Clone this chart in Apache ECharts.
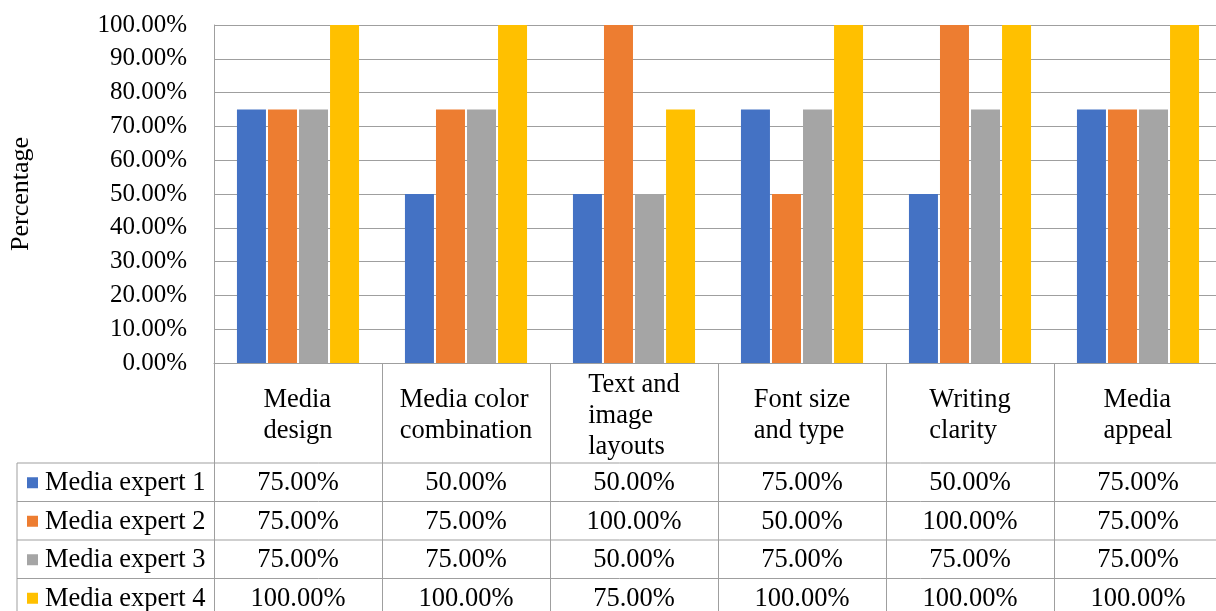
<!DOCTYPE html>
<html>
<head>
<meta charset="utf-8">
<script src="https://cdn.jsdelivr.net/npm/echarts@6/dist/echarts.min.js"></script>
<style>
  html, body { margin: 0; padding: 0; background: #fff; overflow: hidden; }
  #chart { width: 1222px; height: 611px; }
</style>
</head>
<body>
<div id="chart"></div>
<script>
// Evaluation categories (header row of the data table)
const categories = ['Media\ndesign', 'Media color\ncombination', 'Text and\nimage\nlayouts', 'Font size\nand type', 'Writing\nclarity', 'Media\nappeal'];
const seriesNames = ['Media expert 1', 'Media expert 2', 'Media expert 3', 'Media expert 4'];
const expert1 = [0.75, 0.50, 0.50, 0.75, 0.50, 0.75];
const expert2 = [0.75, 0.75, 1.00, 0.50, 1.00, 0.75];
const expert3 = [0.75, 0.75, 0.50, 0.75, 0.75, 0.75];
const expert4 = [1.00, 1.00, 0.75, 1.00, 1.00, 1.00];
const colors = ['#4472C4', '#ED7D31', '#A5A5A5', '#FFC000'];

const allSeries = [expert1, expert2, expert3, expert4];
const FONT = '"Liberation Serif", "Times New Roman", serif';
const LINE = '#9f9f9f';
const TABLE_FONT = 26.5;
const pct = v => (v * 100).toFixed(2) + '%';

// Table geometry
const tableLeft = 17;
const headerMid = 416;
const headerLineH = 31;
const rowTops = [463, 501.5, 540, 578.5];
const rowH = 38.5;

const chart = echarts.init(document.getElementById('chart'), null, { renderer: 'canvas' });

chart.setOption({
  animation: false,
  color: colors,
  grid: { left: 214, right: 0, top: 25, bottom: 248, containLabel: false },
  xAxis: {
    type: 'category',
    data: categories,
    axisLine: { show: true, lineStyle: { color: LINE, width: 1 } },
    axisTick: { show: true, length: 248, interval: 0, lineStyle: { color: LINE, width: 1 } },
    axisLabel: { show: false }
  },
  yAxis: {
    type: 'value',
    min: 0,
    max: 1,
    interval: 0.1,
    name: 'Percentage',
    nameLocation: 'middle',
    nameRotate: 90,
    nameGap: 180,
    nameTextStyle: { fontFamily: FONT, fontSize: 26, color: '#000' },
    axisLine: { show: true, lineStyle: { color: LINE, width: 1 } },
    axisTick: { show: false },
    splitLine: { lineStyle: { color: LINE, width: 1 } },
    axisLabel: {
      formatter: pct,
      fontFamily: FONT,
      fontSize: 25,
      color: '#000',
      margin: 27
    }
  },
  series: allSeries.map((d, i) => ({
    name: seriesNames[i],
    type: 'bar',
    data: d,
    barWidth: 29,
    barGap: '7%'
  }))
});

// Text measuring for the header cells (left-aligned block, centred in cell)
const measureCtx = document.createElement('canvas').getContext('2d');
measureCtx.font = TABLE_FONT + 'px ' + FONT;
const textWidth = s => measureCtx.measureText(s).width;

// Data table: header labels, row lines, legend keys and value cells on the category axis
const graphics = [];
const W = 1222;
categories.forEach((label, c) => {
  const cx = chart.convertToPixel({ xAxisIndex: 0 }, c);
  const lines = label.split('\n');
  const blockW = Math.max(...lines.map(textWidth));
  const top = headerMid - lines.length * headerLineH / 2;
  lines.forEach((ln, k) => {
    graphics.push({
      type: 'text', silent: true,
      x: cx - blockW / 2, y: top + headerLineH * (k + 0.5),
      style: {
        text: ln,
        fontFamily: FONT, fontSize: TABLE_FONT, fill: '#000',
        align: 'left', verticalAlign: 'middle'
      }
    });
  });
});
rowTops.forEach(y => {
  graphics.push({
    type: 'line', silent: true,
    shape: { x1: tableLeft, y1: y, x2: W, y2: y },
    style: { stroke: LINE, lineWidth: 1 }
  });
});
graphics.push({
  type: 'line', silent: true,
  shape: { x1: tableLeft, y1: rowTops[0], x2: tableLeft, y2: 611 },
  style: { stroke: LINE, lineWidth: 1 }
});
seriesNames.forEach((name, r) => {
  const cy = rowTops[r] + rowH / 2;
  graphics.push({
    type: 'rect', silent: true,
    shape: { x: 27, y: cy - 5, width: 11, height: 11 },
    style: { fill: colors[r] }
  });
  graphics.push({
    type: 'text', silent: true,
    x: 45, y: cy + 1,
    style: {
      text: name,
      fontFamily: FONT, fontSize: TABLE_FONT, fill: '#000',
      align: 'left', verticalAlign: 'middle'
    }
  });
});
allSeries.forEach((d, r) => {
  d.forEach((v, c) => {
    const x = chart.convertToPixel({ xAxisIndex: 0 }, c);
    graphics.push({
      type: 'text', silent: true,
      x: x, y: rowTops[r] + rowH / 2 + 1,
      style: {
        text: pct(v),
        fontFamily: FONT, fontSize: TABLE_FONT, fill: '#000',
        align: 'center', verticalAlign: 'middle'
      }
    });
  });
});
chart.setOption({ graphic: graphics });
</script>
</body>
</html>
